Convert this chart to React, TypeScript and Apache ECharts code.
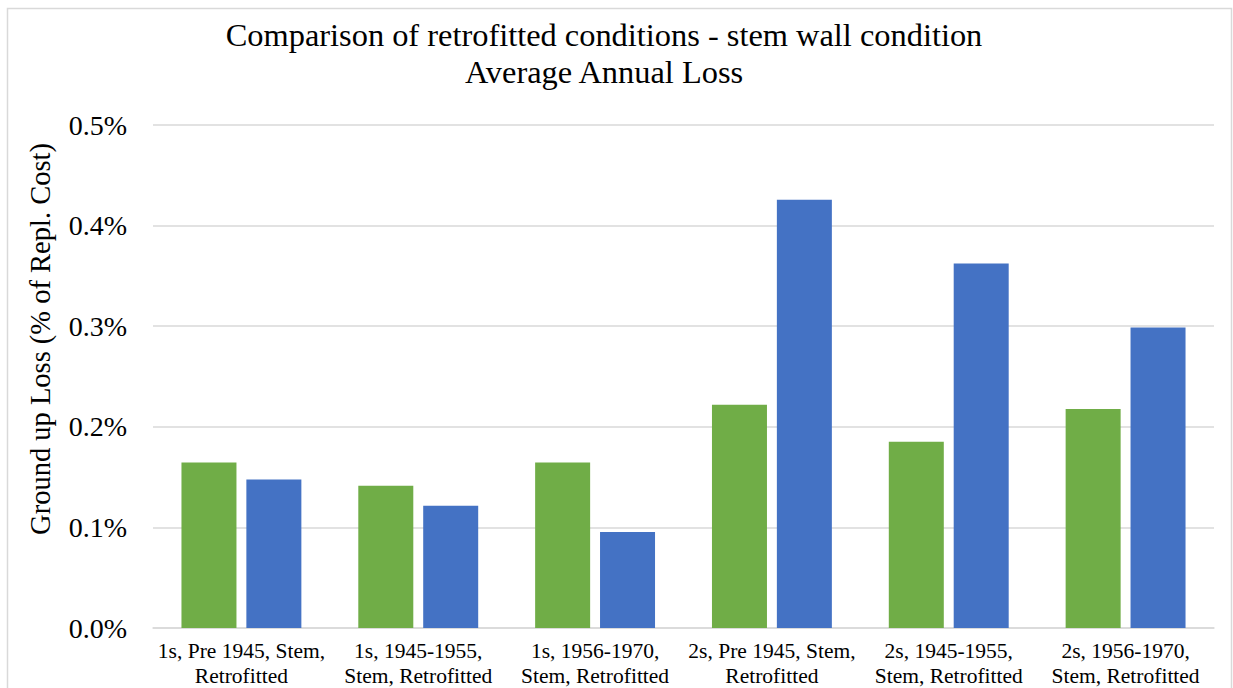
import React, { useEffect, useRef } from "react";
import * as echarts from "echarts";

const categories = [
  "1s, Pre 1945, Stem,\nRetrofitted",
  "1s, 1945-1955,\nStem, Retrofitted",
  "1s, 1956-1970,\nStem, Retrofitted",
  "2s, Pre 1945, Stem,\nRetrofitted",
  "2s, 1945-1955,\nStem, Retrofitted",
  "2s, 1956-1970,\nStem, Retrofitted",
];
const greenSeries = [0.1646, 0.1415, 0.1646, 0.2219, 0.1852, 0.2177];
const blueSeries = [0.1475, 0.1216, 0.0955, 0.4258, 0.3623, 0.2987];
const titleLines = [
  "Comparison of retrofitted conditions - stem wall condition",
  "Average Annual Loss",
];
const yAxisName = "Ground up Loss (% of Repl. Cost)";

const FONT = "'Liberation Serif', 'Times New Roman', serif";

export default function App() {
  const ref = useRef<HTMLDivElement>(null);
  useEffect(() => {
    if (!ref.current) return;
    const chart = echarts.init(ref.current, null, { renderer: "svg" });
    chart.setOption({
      animation: false,
      backgroundColor: "#ffffff",
      textStyle: { fontFamily: FONT },
      graphic: [
        {
          type: "rect",
          shape: { x: 7.5, y: 8.5, width: 1224, height: 720 },
          style: { fill: "none", stroke: "#d9d9d9", lineWidth: 1.5 },
          silent: true,
        },
        {
          type: "text",
          x: 604,
          y: 35,
          style: {
            text: titleLines[0],
            font: `32.4px ${FONT}`,
            fill: "#000000",
            align: "center",
            verticalAlign: "middle",
          },
        },
        {
          type: "text",
          x: 604,
          y: 72,
          style: {
            text: titleLines[1],
            font: `32.4px ${FONT}`,
            fill: "#000000",
            align: "center",
            verticalAlign: "middle",
          },
        },
        {
          type: "text",
          x: 40,
          y: 339,
          rotation: Math.PI / 2,
          style: {
            text: yAxisName,
            font: `28.5px ${FONT}`,
            fill: "#000000",
            align: "center",
            verticalAlign: "middle",
          },
        },
      ],
      grid: { left: 153, right: 19, top: 125, bottom: 59, containLabel: false },
      xAxis: {
        type: "category",
        data: categories,
        axisLine: { show: true, lineStyle: { color: "#d9d9d9", width: 1.5 } },
        axisTick: { show: false },
        axisLabel: {
          interval: 0,
          color: "#000000",
          fontFamily: FONT,
          fontSize: 21.5,
          lineHeight: 25,
          margin: 10,
        },
      },
      yAxis: {
        type: "value",
        min: 0,
        max: 0.5,
        interval: 0.1,
        axisLine: { show: false },
        axisTick: { show: false },
        splitLine: { lineStyle: { color: "#d9d9d9", width: 1.5 } },
        axisLabel: {
          color: "#000000",
          fontFamily: FONT,
          fontSize: 28,
          margin: 26,
          formatter: (v: number) => v.toFixed(1) + "%",
        },
      },
      series: [
        {
          name: "Series 1",
          type: "bar",
          data: greenSeries,
          barWidth: 55,
          barGap: "18%",
          itemStyle: { color: "#70AD47" },
        },
        {
          name: "Series 2",
          type: "bar",
          data: blueSeries,
          barWidth: 55,
          barGap: "18%",
          itemStyle: { color: "#4472C4" },
        },
      ],
    });
    return () => chart.dispose();
  }, []);
  return (
    <div
      ref={ref}
      style={{ position: "fixed", left: 0, top: 0, width: 1233, height: 688 }}
    />
  );
}
